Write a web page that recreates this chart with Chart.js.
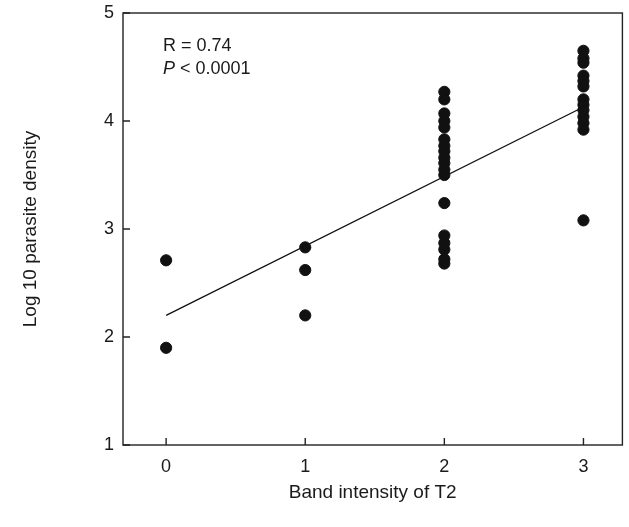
<!DOCTYPE html>
<html>
<head>
<meta charset="utf-8">
<script src="https://cdn.jsdelivr.net/npm/chart.js@4.4.1/dist/chart.umd.min.js"></script>
<style>
  html, body { margin: 0; padding: 0; background: #fff; }
  #wrap { width: 629px; height: 527px; }
</style>
</head>
<body>
<div id="wrap"><canvas id="scatterChart"></canvas></div>
<script>
// band intensity groups and log10 parasite density
const intensity0 = [2.71, 1.90];
const intensity1 = [2.83, 2.62, 2.20];
const intensity2 = [4.27, 4.20, 4.07, 4.00, 3.94, 3.83, 3.77, 3.72, 3.66, 3.61, 3.55, 3.50,
                    3.24, 2.94, 2.87, 2.81, 2.72, 2.68];
const intensity3 = [4.65, 4.58, 4.54, 4.42, 4.37, 4.32, 4.20, 4.15, 4.10, 4.04, 3.98, 3.92, 3.08];
const fitLine = [{ x: 0, y: 2.20 }, { x: 3, y: 4.13 }];
const xTicks = [0, 1, 2, 3];
const yTicks = [1, 2, 3, 4, 5];

const groups = [intensity0, intensity1, intensity2, intensity3];
const points = [];
groups.forEach((vals, i) => vals.forEach(v => points.push({ x: i, y: v })));

const FONT = 'Liberation Sans, Arial, Helvetica, sans-serif';
const INK = '#1a1a1a';

// box around the plot, inward tick marks and the R / P note
const frame = {
  id: 'frame',
  afterDraw(chart) {
    const { ctx, chartArea: a, scales } = chart;
    ctx.save();
    ctx.strokeStyle = '#222';
    ctx.lineWidth = 1.4;
    ctx.strokeRect(a.left, a.top, a.right - a.left, a.bottom - a.top);
    ctx.beginPath();
    xTicks.forEach(v => {
      const px = scales.x.getPixelForValue(v);
      ctx.moveTo(px, a.bottom);
      ctx.lineTo(px, a.bottom - 7);
    });
    yTicks.forEach(v => {
      const py = scales.y.getPixelForValue(v);
      ctx.moveTo(a.left, py);
      ctx.lineTo(a.left + 7, py);
    });
    ctx.stroke();

    ctx.fillStyle = INK;
    ctx.textBaseline = 'middle';
    const tx = a.left + 40;
    ctx.font = '18px ' + FONT;
    ctx.fillText('R = 0.74', tx, a.top + 33);
    ctx.font = 'italic 18px ' + FONT;
    ctx.fillText('P', tx, a.top + 56);
    const w = ctx.measureText('P ').width;
    ctx.font = '18px ' + FONT;
    ctx.fillText('< 0.0001', tx + w, a.top + 56);
    ctx.restore();
  }
};

new Chart(document.getElementById('scatterChart'), {
  type: 'scatter',
  data: {
    datasets: [
      {
        label: 'Samples',
        data: points,
        backgroundColor: '#111',
        borderColor: '#111',
        pointRadius: 5.6,
        pointHoverRadius: 5.6
      },
      {
        type: 'line',
        label: 'Fit',
        data: fitLine,
        borderColor: '#111',
        borderWidth: 1.3,
        pointRadius: 0,
        fill: false
      }
    ]
  },
  options: {
    responsive: true,
    maintainAspectRatio: false,
    animation: false,
    layout: { padding: { top: 13, right: 2, bottom: 0, left: 0 } },
    plugins: { legend: { display: false }, tooltip: { enabled: false } },
    scales: {
      x: {
        type: 'linear',
        min: -0.31,
        max: 3.28,
        afterBuildTicks: s => { s.ticks = xTicks.map(v => ({ value: v })); },
        ticks: { color: INK, font: { family: FONT, size: 18 }, padding: 11 },
        grid: { drawOnChartArea: false, drawTicks: false },
        border: { display: false },
        title: { display: true, text: 'Band intensity of T2', color: INK,
                 font: { family: FONT, size: 19 }, padding: { top: 0, bottom: 23 } },
        afterFit: s => { s.height = 82; s.paddingLeft = 0; s.paddingRight = 0; }
      },
      y: {
        type: 'linear',
        min: 1,
        max: 5,
        afterBuildTicks: s => { s.ticks = yTicks.map(v => ({ value: v })); },
        ticks: { color: INK, font: { family: FONT, size: 18 }, padding: 9 },
        grid: { drawOnChartArea: false, drawTicks: false },
        border: { display: false },
        title: { display: true, text: 'Log 10 parasite density', color: INK,
                 font: { family: FONT, size: 19 }, padding: { top: 19, bottom: 0 } },
        afterFit: s => { s.width = 123; s.paddingTop = 0; s.paddingBottom = 0; }
      }
    }
  },
  plugins: [frame]
});
</script>
</body>
</html>
